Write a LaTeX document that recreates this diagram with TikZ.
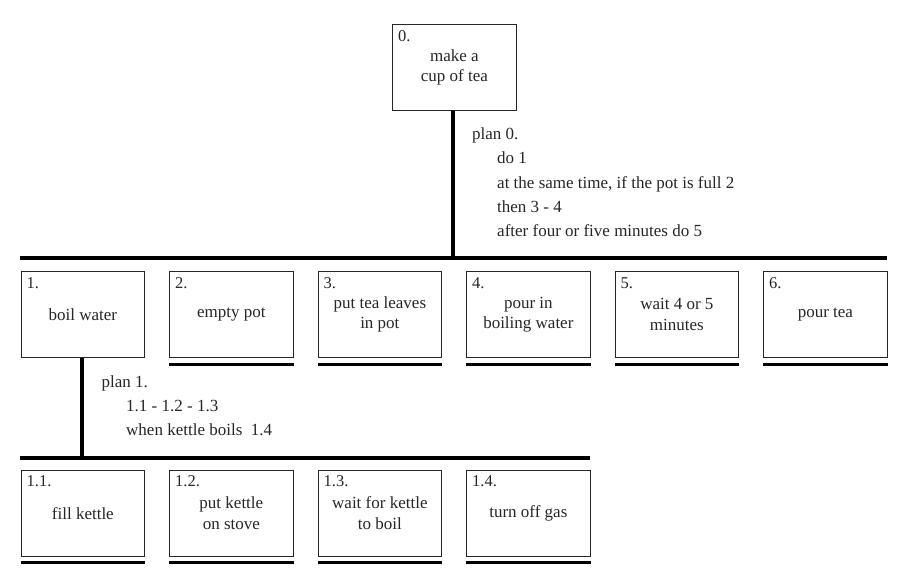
\documentclass[tikz,border=0pt]{standalone}
\usepackage{fontspec}
\setmainfont{Liberation Serif}
\begin{document}
\begin{tikzpicture}[x=1pt,y=-1pt,
  task/.style={draw=black!85, line width=1.2pt, minimum width=123.5pt, minimum height=86pt,
    inner sep=0pt, align=center, anchor=north west, text=black!85,
    font=\fontsize{17}{20.5}\selectfont},
  num/.style={anchor=north west, inner sep=0pt, text=black!85, font=\fontsize{16.5}{18}\selectfont},
  bar/.style={line width=4pt},
  uline/.style={line width=3pt},
  plantext/.style={anchor=base west, inner sep=0pt, text=black!85, font=\fontsize{17}{18}\selectfont}]
\useasboundingbox (0,0) rectangle (901,572);

% top task
\node[task] (b0) at (392,24) {make a\\cup of tea};
\node[num] (n0) at ([shift={(6,6)}]b0.north west) {0.};

% second row
\node[task] (b1) at (20.5,271) {boil water};
\node[task] (b2) at (169,271) {empty pot};
\node[task] (b3) at (317.5,271) {put tea leaves\\in pot};
\node[task] (b4) at (466,271) {pour in\\boiling water};
\node[task] (b5) at (614.5,271) {wait 4 or 5\\minutes};
\node[task] (b6) at (763,271) {pour tea};
\foreach \i in {1,...,6}{
  \node[num] (n\i) at ([shift={(6,6)}]b\i.north west) {\i.};
}

% third row
\node[task] (c1) at (20.5,469.5) {fill kettle};
\node[task] (c2) at (169,469.5) {put kettle\\on stove};
\node[task] (c3) at (317.5,469.5) {wait for kettle\\to boil};
\node[task] (c4) at (466,469.5) {turn off gas};
\foreach \i in {1,...,4}{
  \node[num] (m\i) at ([shift={(6,6)}]c\i.north west) {1.\i.};
}

% bars
\coordinate (barL) at (20,258);
\coordinate (barR) at (887,258);
\coordinate (barT) at (453,258);
\draw[bar] (barL) -- (barR);
\draw[bar] (b0.south -| barT) -- (barT);

\coordinate (bar2L) at (20,457.5);
\coordinate (bar2R) at (590,457.5);
\coordinate (bar2T) at (82,457.5);
\draw[bar] (bar2L) -- (bar2R);
\draw[bar] (b1.south -| bar2T) -- (bar2T);

% underlines (leaf tasks)
\foreach \n in {b2,b3,b4,b5,b6,c1,c2,c3,c4}{
  \draw[uline] ([yshift=-6pt]\n.south west) -- ([yshift=-6pt]\n.south east);
}

% plan 0
\node[plantext] (p0a) at (472,139.5) {plan 0.};
\node[plantext] (p0b) at (497,164) {do 1};
\node[plantext] (p0c) at (497,188.5) {at the same time, if the pot is full 2};
\node[plantext] (p0d) at (497,212.5) {then 3 - 4};
\node[plantext] (p0e) at (497,236.5) {after four or five minutes do 5};

% plan 1
\node[plantext] (p1a) at (101.5,387) {plan 1.};
\node[plantext] (p1b) at (126,411.5) {1.1 - 1.2 - 1.3};
\node[plantext] (p1c) at (126,435.5) {when kettle boils\ \ 1.4};
\end{tikzpicture}
\end{document}
